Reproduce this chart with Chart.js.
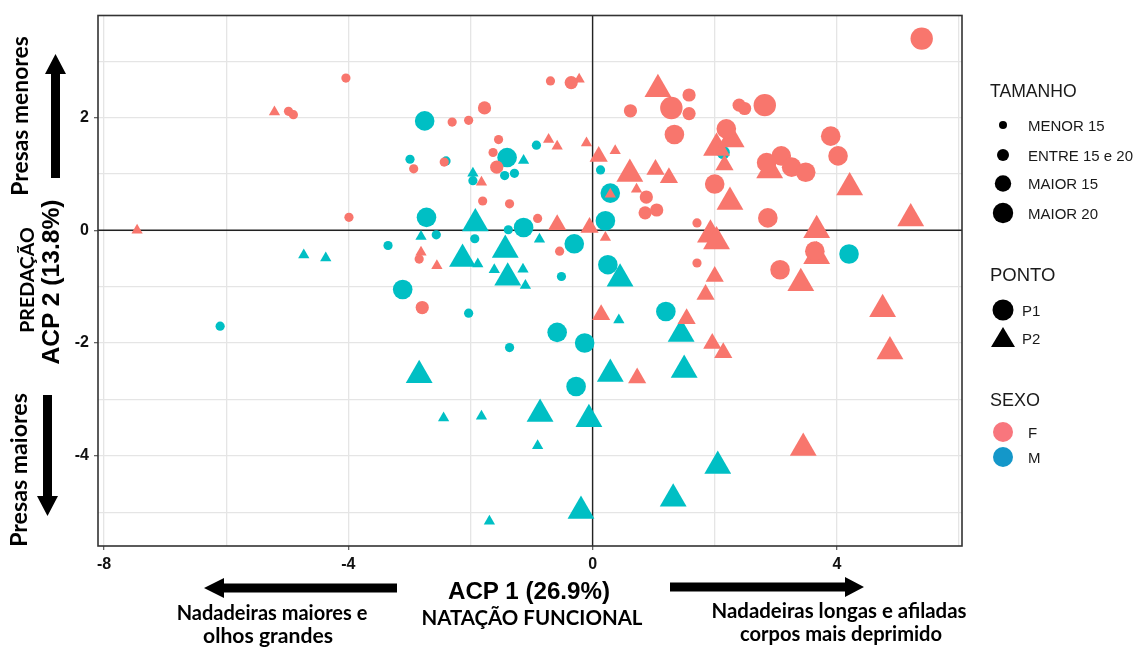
<!DOCTYPE html>
<html><head><meta charset="utf-8">
<script src="https://cdn.jsdelivr.net/npm/chart.js@4.4.1/dist/chart.umd.min.js"></script>
<style>
html,body{margin:0;padding:0;background:#fff;}
#wrap{position:relative;width:1144px;height:651px;overflow:hidden;background:#fff;}
#c{position:absolute;left:0;top:0;}
#ov{position:absolute;left:0;top:0;}
.t{position:absolute;white-space:nowrap;line-height:1;color:#000;}
.cal{font-family:Lato,'Open Sans',sans-serif;font-weight:700;}
.arb{font-family:'Liberation Sans',Arial,sans-serif;font-weight:700;}
.ari{font-family:'Liberation Sans',Arial,sans-serif;font-weight:400;color:#1a1a1a;}
</style></head><body>
<div id="wrap">
<canvas id="c" width="1144" height="651"></canvas>
<svg id="ov" width="1144" height="651" xmlns="http://www.w3.org/2000/svg">
  <!-- axis arrows -->
  <polygon points="51,178 60,178 60,74 66,74 55.5,54 45,74 51,74" fill="#000"/>
  <polygon points="43,395 52,395 52,496 58,496 47.5,516 37,496 43,496" fill="#000"/>
  <polygon points="397,583.5 397,592.5 224,592.5 224,598 204,588 224,578 224,583.5" fill="#000"/>
  <polygon points="670,582.5 670,591.5 845,591.5 845,597 864,587 845,577 845,582.5" fill="#000"/>
  <!-- legend symbols -->
  <circle cx="1003" cy="125" r="4" fill="#000"/>
  <circle cx="1003" cy="155" r="6" fill="#000"/>
  <circle cx="1003" cy="183.5" r="8.2" fill="#000"/>
  <circle cx="1003" cy="213" r="10.2" fill="#000"/>
  <circle cx="1003" cy="310" r="10.5" fill="#000"/>
  <polygon points="1003,327 991,347 1015,347" fill="#000"/>
  <circle cx="1003" cy="432" r="10" fill="#F8767D"/>
  <circle cx="1003" cy="457" r="10" fill="#1497C9"/>
</svg>
</div>
<script>
// ---------------- DATA ----------------
// each point: [ACP1, ACP2, size class]  (1 MENOR 15, 2 ENTRE 15 e 20, 3 MAIOR 15, 4 MAIOR 20)
const femaleP1 = [
  [-4.04,2.70,1],[-4.98,2.11,1],[-4.90,2.05,1],[-3.99,0.23,1],[-0.69,2.65,1],[-0.35,2.62,2],
  [0.62,2.12,2],[1.29,2.17,4],[1.34,1.70,3],[-2.30,1.92,1],[-2.03,1.95,1],[-1.77,2.17,2],
  [-1.54,1.61,1],[-1.63,1.38,1],[-1.57,1.12,2],[-2.43,1.21,1],[-2.93,1.09,1],[-1.80,0.52,1],
  [-1.36,0.47,1],[-0.90,0.21,1],[-0.54,-0.37,1],[-2.84,-0.51,1],[0.88,0.59,2],[0.86,0.31,2],
  [1.05,0.36,2],[5.39,3.40,4],[1.58,2.40,2],[1.58,2.07,2],[2.40,2.22,2],[2.49,2.16,2],
  [2.82,2.22,4],[2.19,1.80,3],[3.90,1.67,3],[4.02,1.32,3],[3.09,1.32,3],[3.26,1.12,3],
  [3.49,1.03,3],[2.85,1.20,3],[2.00,0.82,3],[2.87,0.22,3],[1.71,0.13,1],[3.64,-0.37,3],
  [1.71,-0.58,1],[3.07,-0.70,3],[-2.79,-1.37,2]
];
const femaleP2 = [
  [-5.21,2.10,1],[-7.46,0.00,1],[-0.22,2.68,1],[1.07,2.50,3],[-0.72,1.61,1],[-0.58,1.49,1],
  [-0.10,1.55,1],[-1.82,0.85,1],[-0.58,0.10,2],[-0.05,0.05,2],[0.21,-0.13,1],[-2.81,-0.39,1],
  [-2.55,-0.63,1],[0.10,1.31,2],[0.37,1.41,1],[0.61,1.00,3],[1.03,1.08,2],[1.25,0.93,2],
  [0.29,0.64,1],[0.72,0.73,1],[2.03,1.46,3],[2.27,1.61,3],[2.16,1.16,2],[2.90,1.06,3],
  [4.21,0.76,3],[2.25,0.50,3],[5.21,0.21,3],[1.93,-0.08,3],[2.03,-0.20,3],[3.67,0.00,3],
  [3.67,-0.46,3],[2.00,-0.82,2],[3.41,-0.94,3],[1.85,-1.14,2],[1.54,-1.57,2],[1.96,-2.01,2],
  [2.14,-2.17,2],[4.75,-1.40,3],[4.87,-2.15,3],[3.45,-3.86,3],[0.14,-1.50,2],[0.73,-2.62,2]
];
const maleP1 = [
  [-3.35,-0.27,1],[-6.10,-1.70,1],[-2.75,1.94,3],[-1.40,1.29,3],[-1.44,0.97,1],[-1.28,1.01,1],
  [-0.92,1.51,1],[-2.99,1.26,1],[-2.40,1.23,1],[-1.96,0.88,1],[-2.72,0.23,3],[-1.13,0.05,3],
  [-1.38,0.01,1],[0.21,0.17,3],[-2.56,-0.08,1],[-1.93,-0.15,1],[-0.30,-0.24,3],[0.25,-0.61,3],
  [-0.51,-0.82,1],[-3.11,-1.05,3],[0.13,1.07,1],[0.29,0.66,3],[2.14,1.38,2],[4.20,-0.42,3],
  [-2.03,-1.47,1],[-0.58,-1.81,3],[-0.13,-2.00,3],[-1.36,-2.08,1],[-0.27,-2.77,3],[1.20,-1.44,3]
];
const maleP2 = [
  [-4.73,-0.44,1],[-4.37,-0.49,1],[-1.13,1.24,1],[-1.96,1.01,1],[-1.92,0.12,3],[-2.81,-0.11,1],
  [-0.87,-0.16,1],[-1.43,-0.35,3],[-2.13,-0.51,3],[-1.88,-0.60,1],[-1.61,-0.70,1],[-1.39,-0.84,3],
  [-1.14,-0.69,1],[-1.10,-0.98,1],[0.45,-0.86,3],[-2.84,-2.57,3],[-2.44,-3.33,1],[-1.82,-3.30,1],
  [-0.86,-3.26,3],[-0.06,-3.35,3],[-0.90,-3.82,1],[-0.19,-4.98,3],[-1.69,-5.16,1],[0.43,-1.59,1],
  [0.29,-2.55,3],[1.32,-4.76,3],[1.45,-1.84,3],[1.50,-2.48,3],[2.05,-4.18,3]
];
const xTickLabels = [-8, -4, 0, 4];
const yTickLabels = [-4, -2, 0, 2];
const sizeLabels = ['MENOR 15', 'ENTRE 15 e 20', 'MAIOR 15', 'MAIOR 20'];
const shapeLabels = ['P1', 'P2'];
const sexLabels = ['F', 'M'];

// ---------------- STYLE ----------------
const COL_F = '#F8766D', COL_M = '#00BFC4';
const circleR = {1:4.6, 2:6.6, 3:9.8, 4:11.2};
const triR = {1:6.5, 2:10.5, 3:15.5, 4:17};

function makeDs(label, pts, color, shape) {
  const rr = shape === 'circle' ? circleR : triR;
  const radii = pts.map(p => rr[p[2]]);
  return {
    label, data: pts.map(p => ({x: p[0], y: p[1]})),
    pointStyle: shape, backgroundColor: color, borderColor: color, borderWidth: 0,
    pointRadius: radii, pointHoverRadius: radii, showLine: false
  };
}

const isLab = (arr, v) => arr.some(a => Math.abs(a - v) < 1e-9);

const framePlugin = {
  id: 'framePlugin',
  beforeDatasetsDraw(chart) {
    const {ctx, chartArea: a, scales: {x, y}} = chart;
    const x0 = x.getPixelForValue(0), y0 = y.getPixelForValue(0);
    ctx.save();
    ctx.strokeStyle = '#222'; ctx.lineWidth = 1.4;
    ctx.beginPath();
    ctx.moveTo(x0, a.top); ctx.lineTo(x0, a.bottom);
    ctx.moveTo(a.left, y0); ctx.lineTo(a.right, y0);
    ctx.stroke();
    ctx.restore();
  },
  afterDatasetsDraw(chart) {
    const {ctx, chartArea: a} = chart;
    ctx.save();
    ctx.strokeStyle = '#333'; ctx.lineWidth = 1.6;
    ctx.strokeRect(a.left, a.top, a.right - a.left, a.bottom - a.top);
    ctx.restore();
  }
};

new Chart(document.getElementById('c'), {
  type: 'scatter',
  data: {datasets: [
    makeDs('F P1', femaleP1, COL_F, 'circle'),
    makeDs('F P2', femaleP2, COL_F, 'triangle'),
    makeDs('M P1', maleP1, COL_M, 'circle'),
    makeDs('M P2', maleP2, COL_M, 'triangle')
  ]},
  options: {
    responsive: false, animation: false, devicePixelRatio: 1,
    layout: {padding: {left: 0, top: 10, right: 182, bottom: 0}},
    plugins: {legend: {display: false}, tooltip: {enabled: false}},
    scales: {
      x: {
        type: 'linear', min: -8.1, max: 6.05,
        afterFit(s) { s.height = 105; },
        border: {display: false},
        grid: {
          color: '#E5E5E5', lineWidth: 1.3, tickLength: 4,
          tickColor: c => (c.tick && isLab(xTickLabels, c.tick.value)) ? '#666' : 'rgba(0,0,0,0)'
        },
        ticks: {
          stepSize: 2, includeBounds: false, autoSkip: false, maxRotation: 0, padding: 5,
          color: '#111', font: {family: 'Liberation Sans', size: 16, weight: 'bold'},
          callback: v => isLab(xTickLabels, v) ? String(Math.round(v)) : ''
        }
      },
      y: {
        type: 'linear', min: -5.6, max: 3.81,
        afterFit(s) { s.width = 98; },
        border: {display: false},
        grid: {
          color: '#E5E5E5', lineWidth: 1.3, tickLength: 4,
          tickColor: c => (c.tick && isLab(yTickLabels, c.tick.value)) ? '#666' : 'rgba(0,0,0,0)'
        },
        ticks: {
          stepSize: 1, includeBounds: false, autoSkip: false, padding: 5,
          color: '#111', font: {family: 'Liberation Sans', size: 16, weight: 'bold'},
          callback: v => isLab(yTickLabels, v) ? String(Math.round(v)) : ''
        }
      }
    }
  },
  plugins: [framePlugin]
});

// ---------------- TEXT ----------------
const wrap = document.getElementById('wrap');
function txt(text, cls, x, y, w, opts) {
  opts = opts || {};
  const d = document.createElement('div');
  d.className = 't ' + cls;
  d.textContent = text;
  d.style.fontSize = '20px';
  wrap.appendChild(d);
  if (w) { const m = d.offsetWidth; d.style.fontSize = (20 * w / m).toFixed(2) + 'px'; }
  else if (opts.size) d.style.fontSize = opts.size + 'px';
  d.style.left = x + 'px'; d.style.top = y + 'px';
  if (opts.left) d.style.transform = 'translateY(-50%)';
  else d.style.transform = 'translate(-50%,-50%)' + (opts.rot ? ' rotate(-90deg)' : '');
  return d;
}
// y-axis titles
txt('Presas menores', 'cal', 19, 116, 160, {rot: true});
txt('Presas maiores', 'cal', 19, 470, 154, {rot: true});
txt('PREDAÇÃO', 'cal', 27, 280, 106, {rot: true});
txt('ACP 2 (13.8%)', 'arb', 51, 282, 165, {rot: true});
// x-axis titles
txt('ACP 1 (26.9%)', 'arb', 529, 591, 162);
txt('NATAÇÃO FUNCIONAL', 'cal', 532, 617, 221);
txt('Nadadeiras maiores e', 'cal', 272, 612, 191);
txt('olhos grandes', 'cal', 268, 636, 130);
txt('Nadadeiras longas e afiladas', 'cal', 839, 610, 255);
txt('corpos mais deprimido', 'cal', 841, 633, 202);
// legend
txt('TAMANHO', 'ari', 990, 92, 0, {left: true, size: 17.6});
const sizeY = [125, 155, 183, 213];
sizeLabels.forEach((s, i) => txt(s, 'ari', 1028, sizeY[i], 0, {left: true, size: 15}));
txt('PONTO', 'ari', 990, 275, 0, {left: true, size: 18.5});
const shapeY = [310, 338];
shapeLabels.forEach((s, i) => txt(s, 'ari', 1022, shapeY[i], 0, {left: true, size: 15}));
txt('SEXO', 'ari', 990, 400, 0, {left: true, size: 18});
const sexY = [432, 457];
sexLabels.forEach((s, i) => txt(s, 'ari', 1028, sexY[i], 0, {left: true, size: 15}));
</script>
</body></html>
